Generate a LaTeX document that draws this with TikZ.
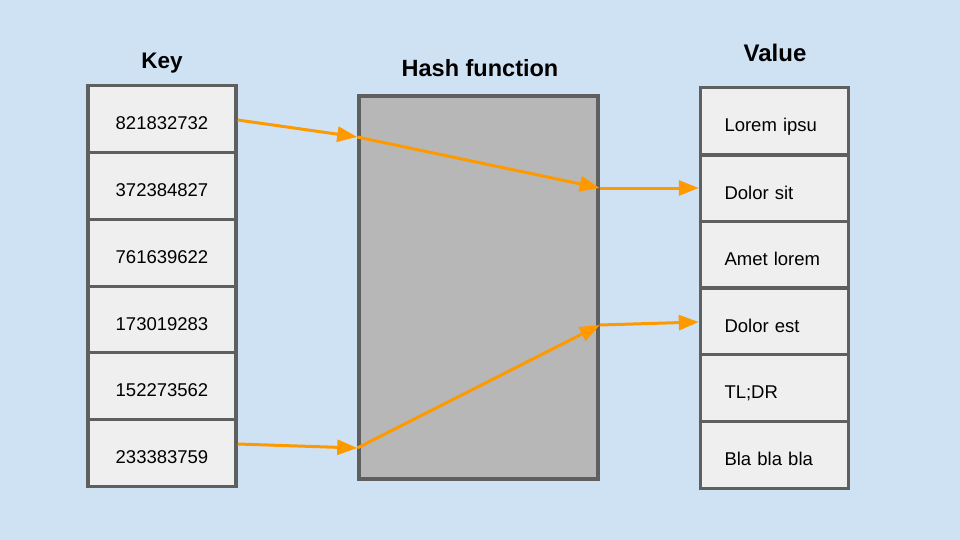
\documentclass[tikz,border=0pt]{standalone}
\usepackage{fontspec}
\setmainfont{Liberation Sans}
\usetikzlibrary{arrows.meta}
\definecolor{bg}{HTML}{CFE2F3}
\definecolor{cellfill}{HTML}{EFEFEF}
\definecolor{edge}{HTML}{5F5F5F}
\definecolor{hashfill}{HTML}{B7B7B7}
\definecolor{orangeline}{HTML}{FF9900}
\tikzset{
  cell/.style={draw=edge, fill=cellfill, line width=3.5pt, minimum width=148pt, minimum height=67pt,
    inner sep=0pt, text height=21pt, text depth=0pt, font=\fontsize{18.5pt}{20pt}\selectfont},
  keycell/.style={cell, align=center},
  valcell/.style={cell, text width=100pt, inner xsep=24pt, align=left},
  title/.style={anchor=base, font=\bfseries\fontsize{22.5pt}{24pt}\selectfont},
  hashbox/.style={draw=edge, fill=hashfill, line width=3.5pt, minimum width=239pt, minimum height=383pt, inner sep=0pt},
  flow/.style={draw=orangeline, line width=3pt, -{Triangle[length=20pt,width=15pt]}},
}
\begin{document}
\begin{tikzpicture}[x=1pt,y=-1pt]
\fill[bg] (0,0) rectangle (960,540);
\useasboundingbox (0,0) rectangle (960,540);

% titles
\node[title] (tkey) at (162,69) {Key};
\node[title, font=\bfseries\fontsize{23.5pt}{25pt}\selectfont] (thash) at (480,76.5) {Hash function};
\node[title, font=\bfseries\fontsize{24pt}{26pt}\selectfont] (tval) at (775,61.5) {Value};

% key column
\node[keycell] (k1) at (162,119) {821832732};
\node[keycell] (k2) at (162,186) {372384827};
\node[keycell] (k3) at (162,253) {761639622};
\node[keycell] (k4) at (162,320) {173019283};
\node[keycell] (k5) at (162,386) {152273562};
\node[keycell] (k6) at (162,453) {233383759};

% hash function box
\node[hashbox] (hash) at (478.5,287.5) {};

% value column
\node[valcell] (v1) at (774.5,121) {Lorem ipsu};
\node[valcell] (v2) at (774.5,188.5) {Dolor sit};
\node[valcell] (v3) at (774.5,255) {Amet lorem};
\node[valcell] (v4) at (774.5,321.5) {Dolor est};
\node[valcell] (v5) at (774.5,388) {TL;DR};
\node[valcell] (v6) at (774.5,455) {Bla bla bla};

% connection points on the hash box
\coordinate (h1in) at (hash.west |- 0,137);
\coordinate (h1out) at (hash.east |- 0,188);
\coordinate (h2in) at (hash.west |- 0,448);
\coordinate (h2out) at (hash.east |- 0,325);

% arrows
\draw[flow] (k1.east |- 0,120) -- (h1in);
\draw[flow] (h1in) -- (h1out);
\draw[flow] (h1out) -- (v2.west |- h1out);
\draw[flow] (k6.east |- 0,444) -- (h2in);
\draw[flow] (h2in) -- (h2out);
\draw[flow] (h2out) -- (v4.west |- 0,322);
\end{tikzpicture}
\end{document}
